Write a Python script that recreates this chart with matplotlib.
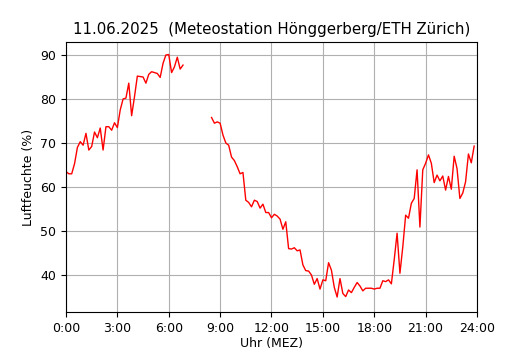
import numpy as np
import matplotlib
matplotlib.use("Agg")
import matplotlib.pyplot as plt

# 10-minute humidity values (%), 0:00 .. 6:50
morning = [63.5, 63.0, 63.0, 65.3, 69.0, 70.3,
           69.5, 72.2, 68.4, 69.2, 72.5, 71.2,
           73.4, 68.4, 73.7, 73.7, 72.9, 74.6,
           73.5, 77.5, 80.0, 80.2, 83.6, 76.2,
           80.5, 85.2, 85.1, 85.0, 83.6, 85.6,
           86.2, 86.0, 85.8, 84.9, 88.1, 90.0,
           90.1, 86.0, 87.3, 89.5, 86.8, 87.7]
# missing 7:00 .. 8:20
gap_count = 9
# 8:30 .. 23:50
afternoon = [75.8, 74.5, 74.8,
             74.5, 71.8, 70.0, 69.5, 66.8, 66.0,
             64.6, 63.0, 63.3, 57.0, 56.5, 55.5,
             57.0, 56.7, 55.2, 56.1, 54.2, 54.2,
             53.0, 53.8, 53.4, 52.7, 50.4, 52.1,
             46.0, 45.9, 46.2, 45.5, 45.7, 42.3,
             41.0, 40.9, 40.0, 37.9, 39.2, 36.8,
             38.9, 38.7, 42.8, 41.1, 37.2, 35.0,
             39.2, 35.8, 35.1, 36.6, 36.0, 37.2,
             38.3, 37.5, 36.4, 37.0, 37.0, 37.0,
             36.8, 37.0, 37.0, 38.7, 38.5, 38.9,
             38.0, 43.5, 49.5, 40.4, 46.4, 53.6,
             52.9, 56.3, 57.4, 63.9, 50.9, 63.9,
             65.4, 67.3, 65.4, 61.0, 62.7, 61.4,
             62.5, 59.3, 62.4, 59.5, 67.0, 64.2,
             57.4, 58.6, 61.2, 67.5, 65.5, 69.3]

values = np.array(morning + [np.nan] * gap_count + afternoon, dtype=float)
hours = np.arange(len(values)) / 6.0

tick_hours = [0, 3, 6, 9, 12, 15, 18, 21, 24]
tick_labels = ["0:00", "3:00", "6:00", "9:00", "12:00", "15:00", "18:00", "21:00", "24:00"]

fig = plt.figure(figsize=(5.3, 3.5), dpi=100)
ax = fig.add_axes([0.1245, 0.1086, 0.7755, 0.7714])
ax.plot(hours, values, color="red", linewidth=1.0)
ax.set_xlim(0, 24)
ax.set_ylim(31.6, 92.95)
ax.set_xticks(tick_hours)
ax.set_xticklabels(tick_labels)
ax.set_yticks([40, 50, 60, 70, 80, 90])
ax.tick_params(labelsize=9)
ax.grid(True, color="#b0b0b0", linewidth=0.8)
ax.set_axisbelow(True)
ax.set_title("11.06.2025  (Meteostation Hönggerberg/ETH Zürich)", fontsize=10.8)
ax.set_xlabel("Uhr (MEZ)", fontsize=9, labelpad=2)
ax.set_ylabel("Luftfeuchte (%)", fontsize=9)
fig.savefig("out.png", dpi=100)
